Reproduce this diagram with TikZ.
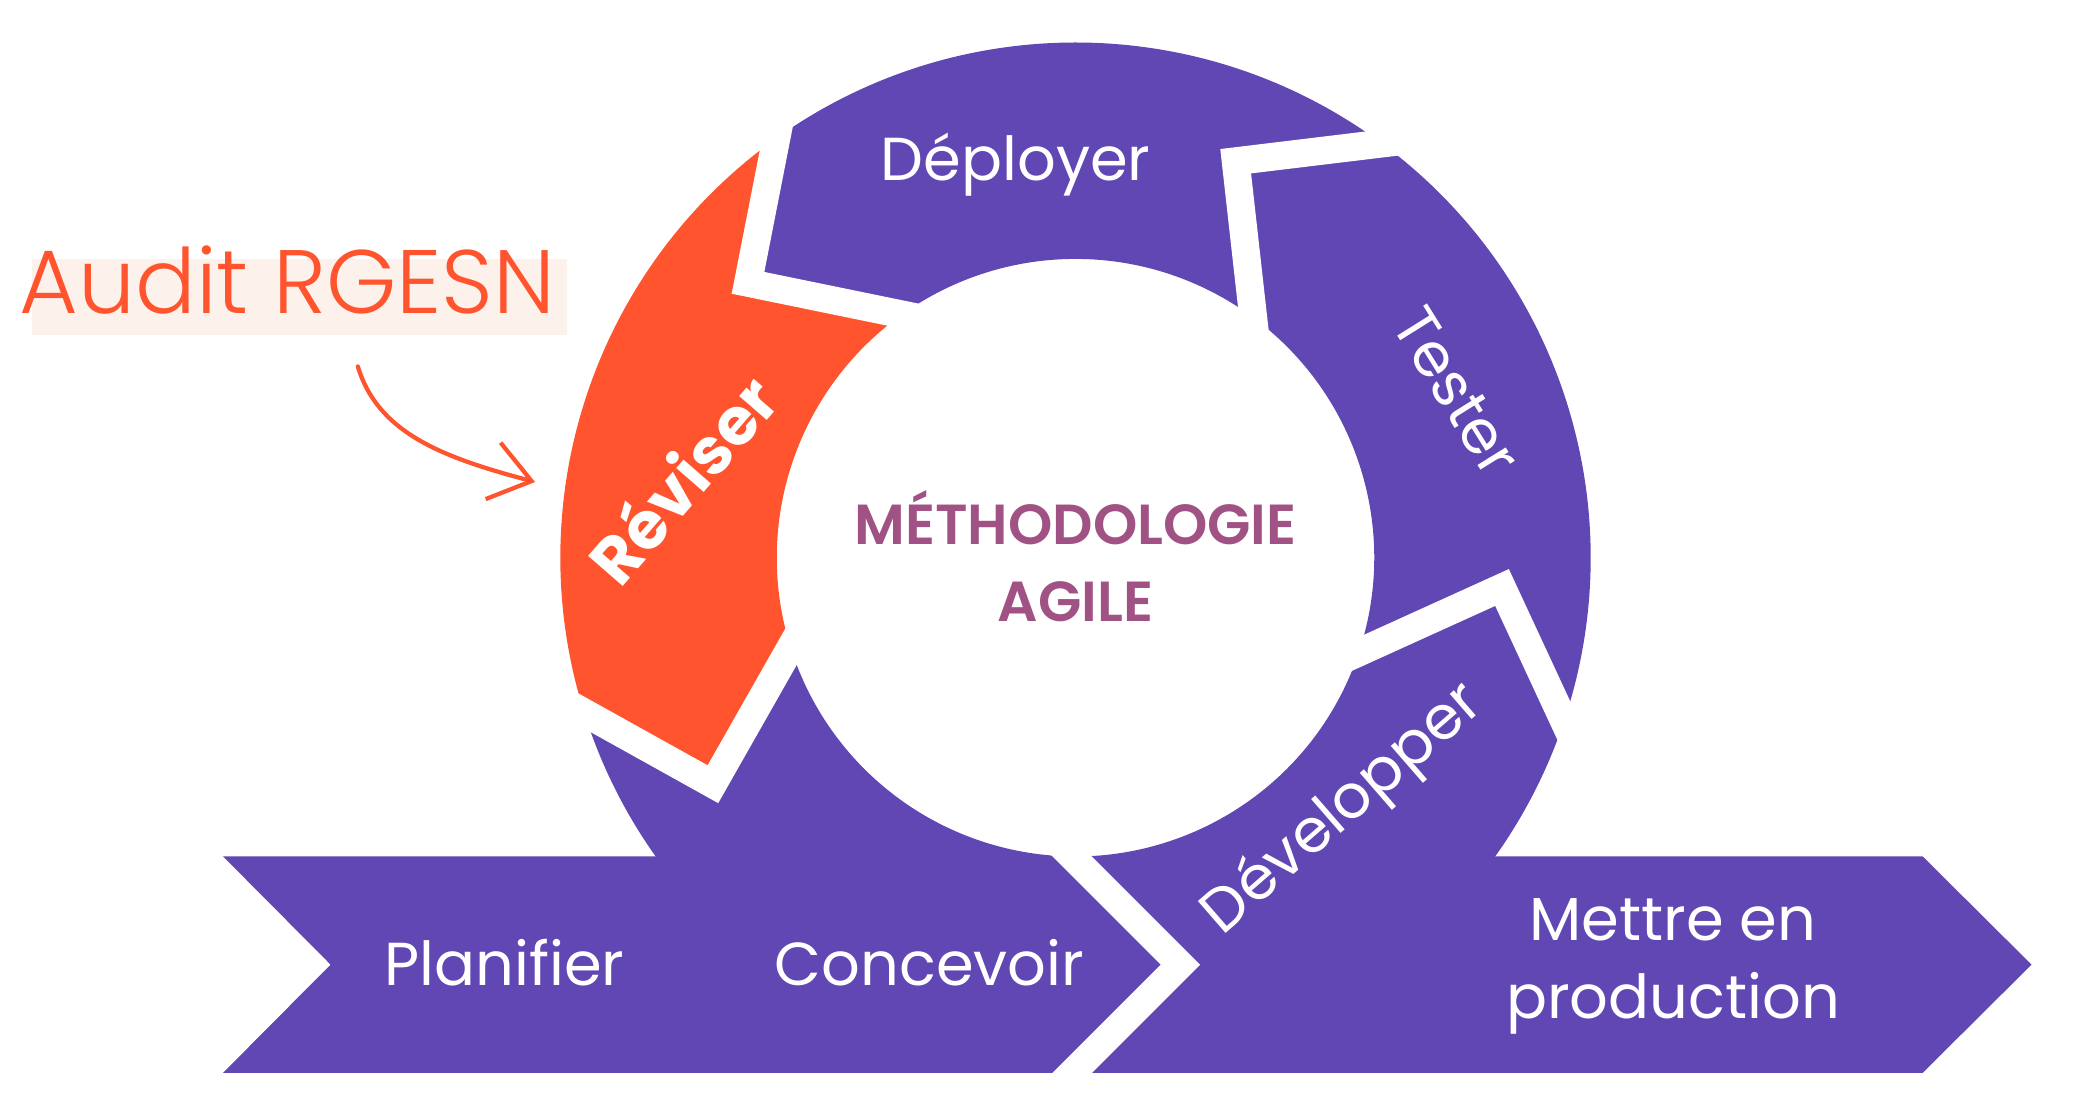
\documentclass[tikz,border=0pt]{standalone}
\usepackage{fontspec}
\setmainfont{Poppins}
\newfontfamily\auditfont{Poppins Light}
\newfontfamily\titlefont{Poppins SemiBold}
\usetikzlibrary{arrows.meta}
\definecolor{agilepurple}{RGB}{97,71,179}
\definecolor{agileorange}{RGB}{255,84,46}
\definecolor{agilemauve}{RGB}{161,82,132}
\definecolor{auditpeach}{RGB}{253,241,236}
\begin{document}
\begin{tikzpicture}[x=0.1mm,y=0.1mm,
  steplabel/.style={text=white, inner sep=0pt, font=\fontsize{13pt}{15pt}\selectfont},
  gapline/.style={draw=white, line width=2.1mm, line join=miter, shorten <=-2mm, shorten >=-2mm},
  auditarrow/.style={draw=agileorange, line width=0.32mm, line cap=round, -{Straight Barb[length=3mm,width=4.4mm]}}]
\useasboundingbox (-810,-423) rectangle (758,420);
% ring, centre at the origin
\fill[agilepurple] (53.5:388) arc[start angle=53.5, end angle=125.5, radius=388] -- (140:322) -- (125.5:225) arc[start angle=125.5, end angle=53.5, radius=225] -- (68:322) -- cycle;
\fill[agileorange] (125.5:388) arc[start angle=125.5, end angle=197.5, radius=388] -- (212:322) -- (197.5:225) arc[start angle=197.5, end angle=125.5, radius=225] -- (140:322) -- cycle;
\fill[agilepurple] (-18.5:388) arc[start angle=-18.5, end angle=53.5, radius=388] -- (68:322) -- (53.5:225) arc[start angle=53.5, end angle=-18.5, radius=225] -- (-4:322) -- cycle;
\fill[agilepurple] (197.5:388) arc[start angle=197.5, end angle=341.5, radius=388] -- (356:322) -- (341.5:225) arc[start angle=341.5, end angle=197.5, radius=225] -- (212:322) -- cycle;
% arrow band
\fill[agilepurple] (-642,-225) -- (638,-225) -- (720,-306.5) -- (638,-388) -- (-642,-388) -- (-561,-306.5) -- cycle;
% gaps
\draw[gapline] (53.5:388) -- (68:322) -- (53.5:225);
\draw[gapline] (125.5:388) -- (140:322) -- (125.5:225);
\draw[gapline] (197.5:388) -- (212:322) -- (197.5:225);
\draw[gapline] (341.5:388) -- (356:322) -- (341.5:225);
\draw[gapline] (-2.5,-225) -- (79,-306.5) -- (-2.5,-388);

\node[steplabel, anchor=base] (deployer) at (-45,284) {Déployer};
\node[steplabel, rotate=-58] (tester) at (287,125) {Tester};
\node[steplabel, rotate=41] (developper) at (202,-190) {Développer};
\node[steplabel, rotate=49, font=\fontsize{14pt}{16pt}\selectfont\bfseries] (reviser) at (-297,60) {Réviser};
\node[steplabel, anchor=base] (planifier) at (-430,-322) {Planifier};
\node[steplabel, anchor=base] (concevoir) at (-110,-322) {Concevoir};
\node[steplabel, anchor=base] (mettre) at (450,-288) {Mettre en};
\node[steplabel, anchor=base] (production) at (450,-347) {production};

\node[text=agilemauve, inner sep=0pt, anchor=base, font=\fontsize{12.1pt}{14pt}\titlefont] (methodo) at (0,10) {MÉTHODOLOGIE};
\node[text=agilemauve, inner sep=0pt, anchor=base, font=\fontsize{12.1pt}{14pt}\titlefont] (agile) at (0,-48) {AGILE};

% audit
\fill[auditpeach] (-786,168) rectangle (-383,225);
\node[text=agileorange, inner sep=0pt, anchor=base west, font=\fontsize{19.3pt}{22pt}\auditfont] (audit) at (-796,184) {Audit RGESN};
\coordinate (arrfrom) at (-540.5,144);
\coordinate (arrto) at (-407,57);
\draw[auditarrow] (arrfrom) .. controls (-525.5,94) and (-477,75.5) .. (arrto);
\end{tikzpicture}
\end{document}
